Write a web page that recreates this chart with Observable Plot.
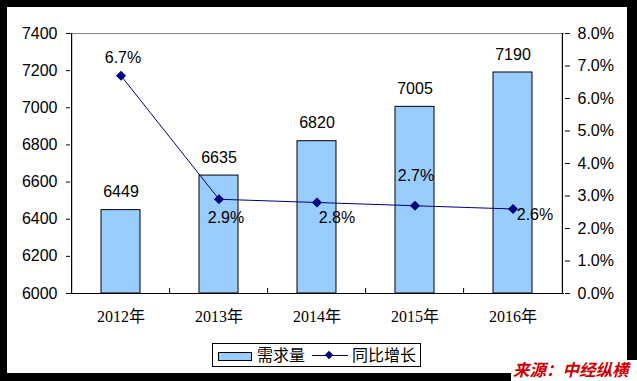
<!DOCTYPE html>
<html><head><meta charset="utf-8">
<script src="https://cdn.jsdelivr.net/npm/d3@7"></script>
<script src="https://cdn.jsdelivr.net/npm/@observablehq/plot@0.6"></script>
<style>
html,body{margin:0;padding:0;background:#000;}
#wrap{position:relative;width:637px;height:381px;background:#000;overflow:hidden;}
#paper{position:absolute;left:7px;top:7px;width:620px;height:366px;background:#fff;}
#chart{position:absolute;left:0;top:0;}
#chart svg{background:transparent !important;}
#legend{position:absolute;left:212px;top:343px;width:207px;height:22px;border:1px solid #000;background:#fff;
  font-family:"Noto Sans CJK SC",sans-serif;font-size:16px;line-height:22px;color:#000;}
#legend .sw{position:absolute;left:5px;top:8px;width:32px;height:7px;background:#99CCFF;border:1px solid #000;}
#legend .t1{position:absolute;left:44px;top:-1px;letter-spacing:0px;}
#legend .ln{position:absolute;left:99px;top:11px;width:36px;height:1px;background:#000080;}
#legend .dm{position:absolute;left:113px;top:8px;width:6px;height:6px;background:#000080;transform:rotate(45deg);}
#legend .t2{position:absolute;left:139px;top:-1px;letter-spacing:0px;}
#src{position:absolute;left:511px;top:360px;width:126px;height:21px;background:#fff;}
#src span{position:absolute;left:2px;top:-3px;font-family:"Noto Sans CJK SC",sans-serif;font-weight:bold;font-style:italic;
  font-size:16.5px;color:#CC0000;white-space:nowrap;}
</style></head>
<body>
<div id="wrap">
  <div id="paper"></div>
  <div id="chart"></div>
  <div id="legend"><div class="sw"></div><span class="t1">需求量</span><div class="ln"></div><div class="dm"></div><span class="t2">同比增长</span></div>
  <div id="src"><span>来源：中经纵横</span></div>
</div>
<script>
const years = ["2012年", "2013年", "2014年", "2015年", "2016年"];
const demand = [6449, 6635, 6820, 7005, 7190];
const growth = [6.7, 2.9, 2.8, 2.7, 2.6];
const leftTicks = [6000, 6200, 6400, 6600, 6800, 7000, 7200, 7400];
const rightTicks = [0, 1, 2, 3, 4, 5, 6, 7, 8];

// layout
const W = 637, H = 381, ML = 70, MR = 73, MT = 33, MB = 88;
const step = (W - ML - MR) / years.length;
const yMin = 6000, yMax = 7400, pMax = 8;
const toY = p => yMin + p / pMax * (yMax - yMin);
const fromY = v => (v - yMin) / (yMax - yMin) * pMax;
// per-label offsets for growth labels (manual placement as in the original)
const gDx = [2, 7, 20, 1, 22];
const gDy = [-18, 19, 15, -30, 6];

const rows = years.map((y, i) => ({year: y, demand: demand[i], growth: growth[i], gy: toY(growth[i]), i}));
const tickLen = 5 * (yMax - yMin) / (H - MT - MB);

const growthLabels = rows.map(r => Plot.text([r], {x: "year", y: "gy", text: d => d.growth.toFixed(1) + "%",
  dx: gDx[r.i], dy: gDy[r.i], textAnchor: "middle", fontSize: 16, fill: "#000"}));

const chart = Plot.plot({
  width: W, height: H,
  marginLeft: ML, marginRight: MR, marginTop: MT, marginBottom: MB,
  style: {background: "transparent", fontFamily: "Liberation Sans, Arial, sans-serif", fontSize: "16px", color: "#000"},
  x: {type: "band", domain: years, paddingInner: 0.6, paddingOuter: 0.3},
  y: {domain: [yMin, yMax]},
  marks: [
    Plot.ruleY([yMax], {stroke: "#808080", strokeWidth: 1}),
    Plot.barY(rows, {x: "year", y1: yMin, y2: "demand", fill: "#99CCFF", stroke: "#000", strokeWidth: 1}),
    Plot.ruleY([yMin], {stroke: "#000", strokeWidth: 1.2}),
    Plot.ruleX([years[0]], {x: d => d, dx: -step / 2, stroke: "#000", strokeWidth: 1.2}),
    Plot.ruleX([years[years.length - 1]], {x: d => d, dx: step / 2, stroke: "#000", strokeWidth: 1.2}),
    Plot.ruleX(years.slice(1), {x: d => d, dx: -step / 2, y1: yMin, y2: yMin + tickLen, stroke: "#000"}),
    Plot.axisY(leftTicks, {anchor: "left", tickSize: 4, tickPadding: 9, label: null, fontSize: 16, tickFormat: d => String(d)}),
    Plot.axisY(rightTicks.map(toY), {anchor: "right", tickSize: 5, tickPadding: 8, label: null, fontSize: 16,
      tickFormat: d => fromY(d).toFixed(1) + "%"}),
    Plot.axisX({tickSize: 0, tickPadding: 17, label: null, fontSize: 16,
      fontFamily: "Liberation Serif, Noto Sans CJK SC, serif"}),
    Plot.text(rows, {x: "year", y: "demand", text: d => String(d.demand), dy: -18, fontSize: 16, fill: "#000"}),
    Plot.line(rows, {x: "year", y: "gy", stroke: "#000080", strokeWidth: 1}),
    Plot.dot(rows, {x: "year", y: "gy", symbol: "diamond2", r: 3.6, fill: "#000080", stroke: "#000080"}),
    ...growthLabels
  ]
});
document.getElementById("chart").appendChild(chart);
</script>
</body></html>
